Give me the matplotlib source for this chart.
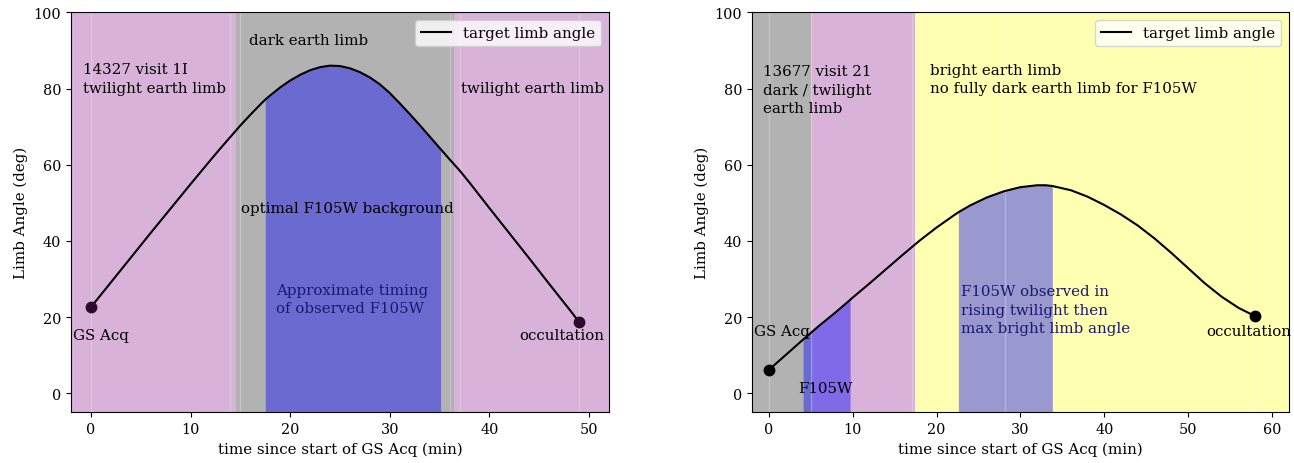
import matplotlib.pyplot as plt
import numpy as np

plt.rcParams['font.family'] = 'serif'
plt.rcParams['font.size'] = 10.8
plt.rcParams['xtick.labelsize'] = 10.4
plt.rcParams['ytick.labelsize'] = 10.4

# Visit 14327 1I: target limb angle (deg) vs. time since GS Acq (min)
t_14327 = [0, 2, 4, 6, 8, 10, 12, 13, 14, 15, 16, 17, 17.5, 18, 19, 20, 21,
           22, 23, 24, 25, 26, 27, 28, 29, 30, 31, 32, 33, 34, 35, 35.1, 36,
           37, 38, 40, 42, 44, 46, 48, 49]
limb_14327 = [22.6, 29.1, 35.6, 42.1, 48.5, 54.9, 61.2, 64.3, 67.3, 70.3,
              73.1, 75.8, 77.1, 78.2, 80.3, 82.1, 83.6, 84.8, 85.6, 86.0,
              85.9, 85.3, 84.3, 82.9, 81.1, 78.8, 76.1, 73.3, 70.4, 67.4,
              64.4, 64.1, 61.4, 58.5, 55.3, 48.6, 42.0, 35.4, 28.7, 22.1, 18.7]

# Visit 13677 21
t_13677 = [0, 2, 4, 4.1, 6, 8, 9.7, 10, 12, 14, 16, 18, 20, 22, 22.6, 24, 26,
           28, 30, 32, 33, 33.8, 36, 38, 40, 42, 44, 46, 48, 50, 52, 54, 56, 58]
limb_13677 = [6.1, 10.0, 13.9, 14.1, 17.7, 21.3, 24.5, 25.1, 28.8, 32.6,
              36.4, 40.1, 43.5, 46.6, 47.5, 49.3, 51.4, 53.0, 54.1, 54.6,
              54.6, 54.4, 53.3, 51.6, 49.4, 46.9, 44.0, 40.6, 36.8, 32.8,
              28.8, 25.3, 22.4, 20.2]

# Earth limb phases: (start, end, colour)
phases_14327 = [(-2, 14.55, 'purple'), (14.55, 36.45, 'k'), (36.45, 52, 'purple')]
phases_13677 = [(-2, 5.0, 'k'), (5.0, 17.4, 'purple'), (17.4, 62, 'yellow')]

# F105W exposure windows
f105w_14327 = [(17.5, 35.1)]
f105w_13677 = [(4.1, 9.7), (22.6, 33.8)]

# event times marked with thin lines
events_14327 = [0, 14, 15, 36, 37, 49]
events_13677 = [0, 5, 17.1, 28.1, 58]

fig = plt.figure(figsize=(12.94, 4.64), dpi=100)
ax1 = fig.add_axes([0.0549, 0.1093, 0.4157, 0.862])
ax2 = fig.add_axes([0.5811, 0.1093, 0.4150, 0.862])


def draw_orbit(ax, t, limb, phases, windows, events, dot_color, xlim):
    t = np.array(t)
    limb = np.array(limb)
    for start, end, color in phases:
        ax.axvspan(start, end, color=color, alpha=0.3, lw=0)
    for x in events:
        ax.axvline(x, color='w', alpha=0.25, lw=1)
    for start, end in windows:
        mask = (t >= start) & (t <= end)
        ax.fill_between(t[mask], -5, limb[mask], color='blue', alpha=0.4, lw=0)
    ax.plot(t, limb, 'k-', lw=1.5, label='target limb angle')
    ax.plot([t[0], t[-1]], [limb[0], limb[-1]], 'o', color=dot_color, ms=7.5)
    ax.set_xlim(xlim)
    ax.set_ylim(-5, 100)
    ax.set_xlabel('time since start of GS Acq (min)')
    ax.set_ylabel('Limb Angle (deg)')
    ax.legend(loc='upper right')


draw_orbit(ax1, t_14327, limb_14327, phases_14327, f105w_14327,
           events_14327, '#2b0a2b', (-2, 52))
draw_orbit(ax2, t_13677, limb_13677, phases_13677, f105w_13677,
           events_13677, 'k', (-2, 62))

ls = 1.4

# Labels for visit 14327
ax1.text(-0.8, 79.2, '14327 visit 1I\ntwilight earth limb', linespacing=ls)
ax1.text(15.9, 91.7, 'dark earth limb')
ax1.text(37.1, 79.0, 'twilight earth limb')
ax1.text(15.1, 47.5, 'optimal F105W background')
ax1.text(18.55, 21.2, 'Approximate timing\nof observed F105W',
         color='midnightblue', linespacing=ls)
ax1.text(-1.8, 14.2, 'GS Acq')
ax1.text(43.0, 14.2, 'occultation')

# Labels for visit 13677
ax2.text(-0.7, 73.8, '13677 visit 21\ndark / twilight\nearth limb', linespacing=ls)
ax2.text(19.2, 79.05, 'bright earth limb\nno fully dark earth limb for F105W',
         linespacing=ls)
ax2.text(22.95, 16.1, 'F105W observed in\nrising twilight then\nmax bright limb angle',
         color='midnightblue', linespacing=ls)
ax2.text(-1.7, 15.3, 'GS Acq')
ax2.text(3.5, 0.3, 'F105W')
ax2.text(52.1, 15.3, 'occultation')

plt.savefig('out.png')
